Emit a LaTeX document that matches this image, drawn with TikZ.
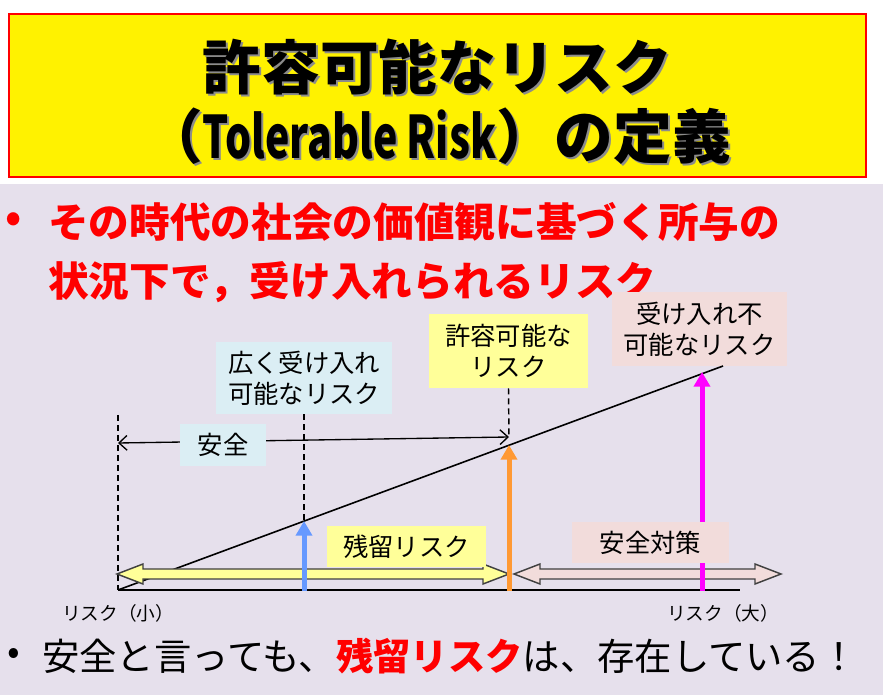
\documentclass[tikz,border=0pt]{standalone}
\usepackage{fontspec}
\setmainfont{Noto Sans CJK JP}
\newfontfamily\titlefont{Noto Sans CJK JP Black}
\usepackage{graphicx}
\usetikzlibrary{arrows.meta,positioning}
\definecolor{slidebg}{HTML}{E6E0EC}
\definecolor{lblblue}{HTML}{DBEEF4}
\definecolor{lblyellow}{HTML}{FFFF99}
\definecolor{lblpink}{HTML}{F2DCDB}
\definecolor{arrblue}{HTML}{6699FF}
\definecolor{arrorange}{HTML}{FF9933}
\definecolor{arrmagenta}{HTML}{FF00FF}
\definecolor{blockedge}{HTML}{404040}

% block double arrow: left x, right x, centre y, fill
\newcommand\dblarrow[4]{%
  \draw[blockline, fill=#4] (#1,#3) -- ({#1+26},{#3-10}) -- ({#1+26},{#3-5})
    -- ({#2-26},{#3-5}) -- ({#2-26},{#3-10}) -- (#2,#3) -- ({#2-26},{#3+10})
    -- ({#2-26},{#3+5}) -- ({#1+26},{#3+5}) -- ({#1+26},{#3+10}) -- cycle;}

\begin{document}
\begin{tikzpicture}[x=0.75pt,y=-0.75pt,
    titletxt/.style={align=center, inner sep=0pt, font=\titlefont\fontsize{44}{51.75}\selectfont},
    deftxt/.style={anchor=west, inner sep=0pt, text=red, font=\bfseries\fontsize{30.5}{36}\selectfont},
    notetxt/.style={anchor=west, inner sep=0pt, font=\fontsize{28}{34}\selectfont},
    lbl/.style={align=center, inner sep=0pt, font=\fontsize{19}{23.5}\selectfont},
    axislbl/.style={inner sep=0pt, font=\fontsize{14}{16}\selectfont},
    axis/.style={line width=1.2pt},
    guide/.style={line width=1.1pt, dash pattern=on 4.5pt off 3pt},
    blockline/.style={line width=1.1pt, draw=blockedge},
    riser/.style={line width=3.75pt, -{Triangle[width=12pt,length=11pt]}}
  ]
  \useasboundingbox (0,0) rectangle (883,695);
  \fill[white] (0,0) rectangle (883,695);
  \fill[slidebg] (0,184) rectangle (883,695);

  % title
  \node[draw=red, line width=1.5pt, fill=yellow, minimum width=642.75pt, minimum height=122.25pt] (titlebox) at (437.5,95.5) {};
  \node[titletxt, text=black!45] (titleshade) at (439.5,103.5) {許容可能なリスク\\（\scalebox{0.7}[1]{Tolerable Risk}）の定義};
  \node[titletxt] (title) at (437.5,101.5) {許容可能なリスク\\（\scalebox{0.7}[1]{Tolerable Risk}）の定義};

  % definition
  \node[deftxt, anchor=center] (bul1) at (14,222) {•};
  \node[deftxt] (def1) at (48,222) {その時代の社会の価値観に基づく所与の};
  \node[deftxt] (def2) at (48,282) {状況下で，受け入れられるリスク};

  % diagram
  \coordinate (O) at (118,590);
  \coordinate (E) at (740,590);
  \coordinate (D) at (723,366);
  \coordinate (Ltop) at (118,415);
  \coordinate (pB) at (304,521);
  \coordinate (pO) at (509,445);
  \coordinate (pM) at (702,372);
  \coordinate (sL) at (118,443);
  \coordinate (sR) at (509,437);

  \node[lbl, fill=lblblue, minimum width=132pt, minimum height=54pt] (wide) at (304,378) {広く受け入れ\\可能なリスク};
  \node[lbl, fill=lblyellow, minimum width=119.25pt, minimum height=55.5pt] (tol) at (508.5,351) {許容可能な\\リスク};
  \node[lbl, fill=lblpink, minimum width=131.25pt, minimum height=55.5pt] (intol) at (699.5,329) {受け入れ不\\可能なリスク};

  \draw[axis] (O) -- (E);
  \draw[axis] (O) -- (D);
  \draw[guide] (Ltop) -- (O);
  \draw[guide] (wide.south) -- (pB);
  \draw[guide] (tol.south) -- (sR);
  \draw[line width=1pt, {Straight Barb[length=6pt,width=11pt]}-{Straight Barb[length=6pt,width=11pt]}] (sL) -- (sR);
  \node[lbl, fill=lblblue, minimum width=64.5pt, minimum height=31.5pt] (safe) at (223,445) {安全};

  \dblarrow{117}{509}{574}{lblyellow}
  \dblarrow{514}{781}{574}{lblpink}

  \draw[riser, arrblue] (304,591) -- (pB);
  \draw[riser, arrorange] (509,591) -- (pO);
  \draw[riser, arrmagenta] (702,591) -- (pM);

  \node[lbl, fill=lblyellow, minimum width=119.25pt, minimum height=30.75pt] (resid) at (406.5,546.5) {残留リスク};
  \node[lbl, fill=lblpink, minimum width=117.75pt, minimum height=30.75pt] (measure) at (650.5,542.5) {安全対策};

  \node[axislbl] (low) at (118,613) {リスク（小）};
  \node[axislbl] (high) at (723,613) {リスク（大）};

  % note
  \node[notetxt, anchor=center] (bul2) at (14,656) {•};
  \node[notetxt] (note) at (42,656) {安全と言っても、{\color{red}\bfseries 残留リスク}は、存在している！};
\end{tikzpicture}
\end{document}
